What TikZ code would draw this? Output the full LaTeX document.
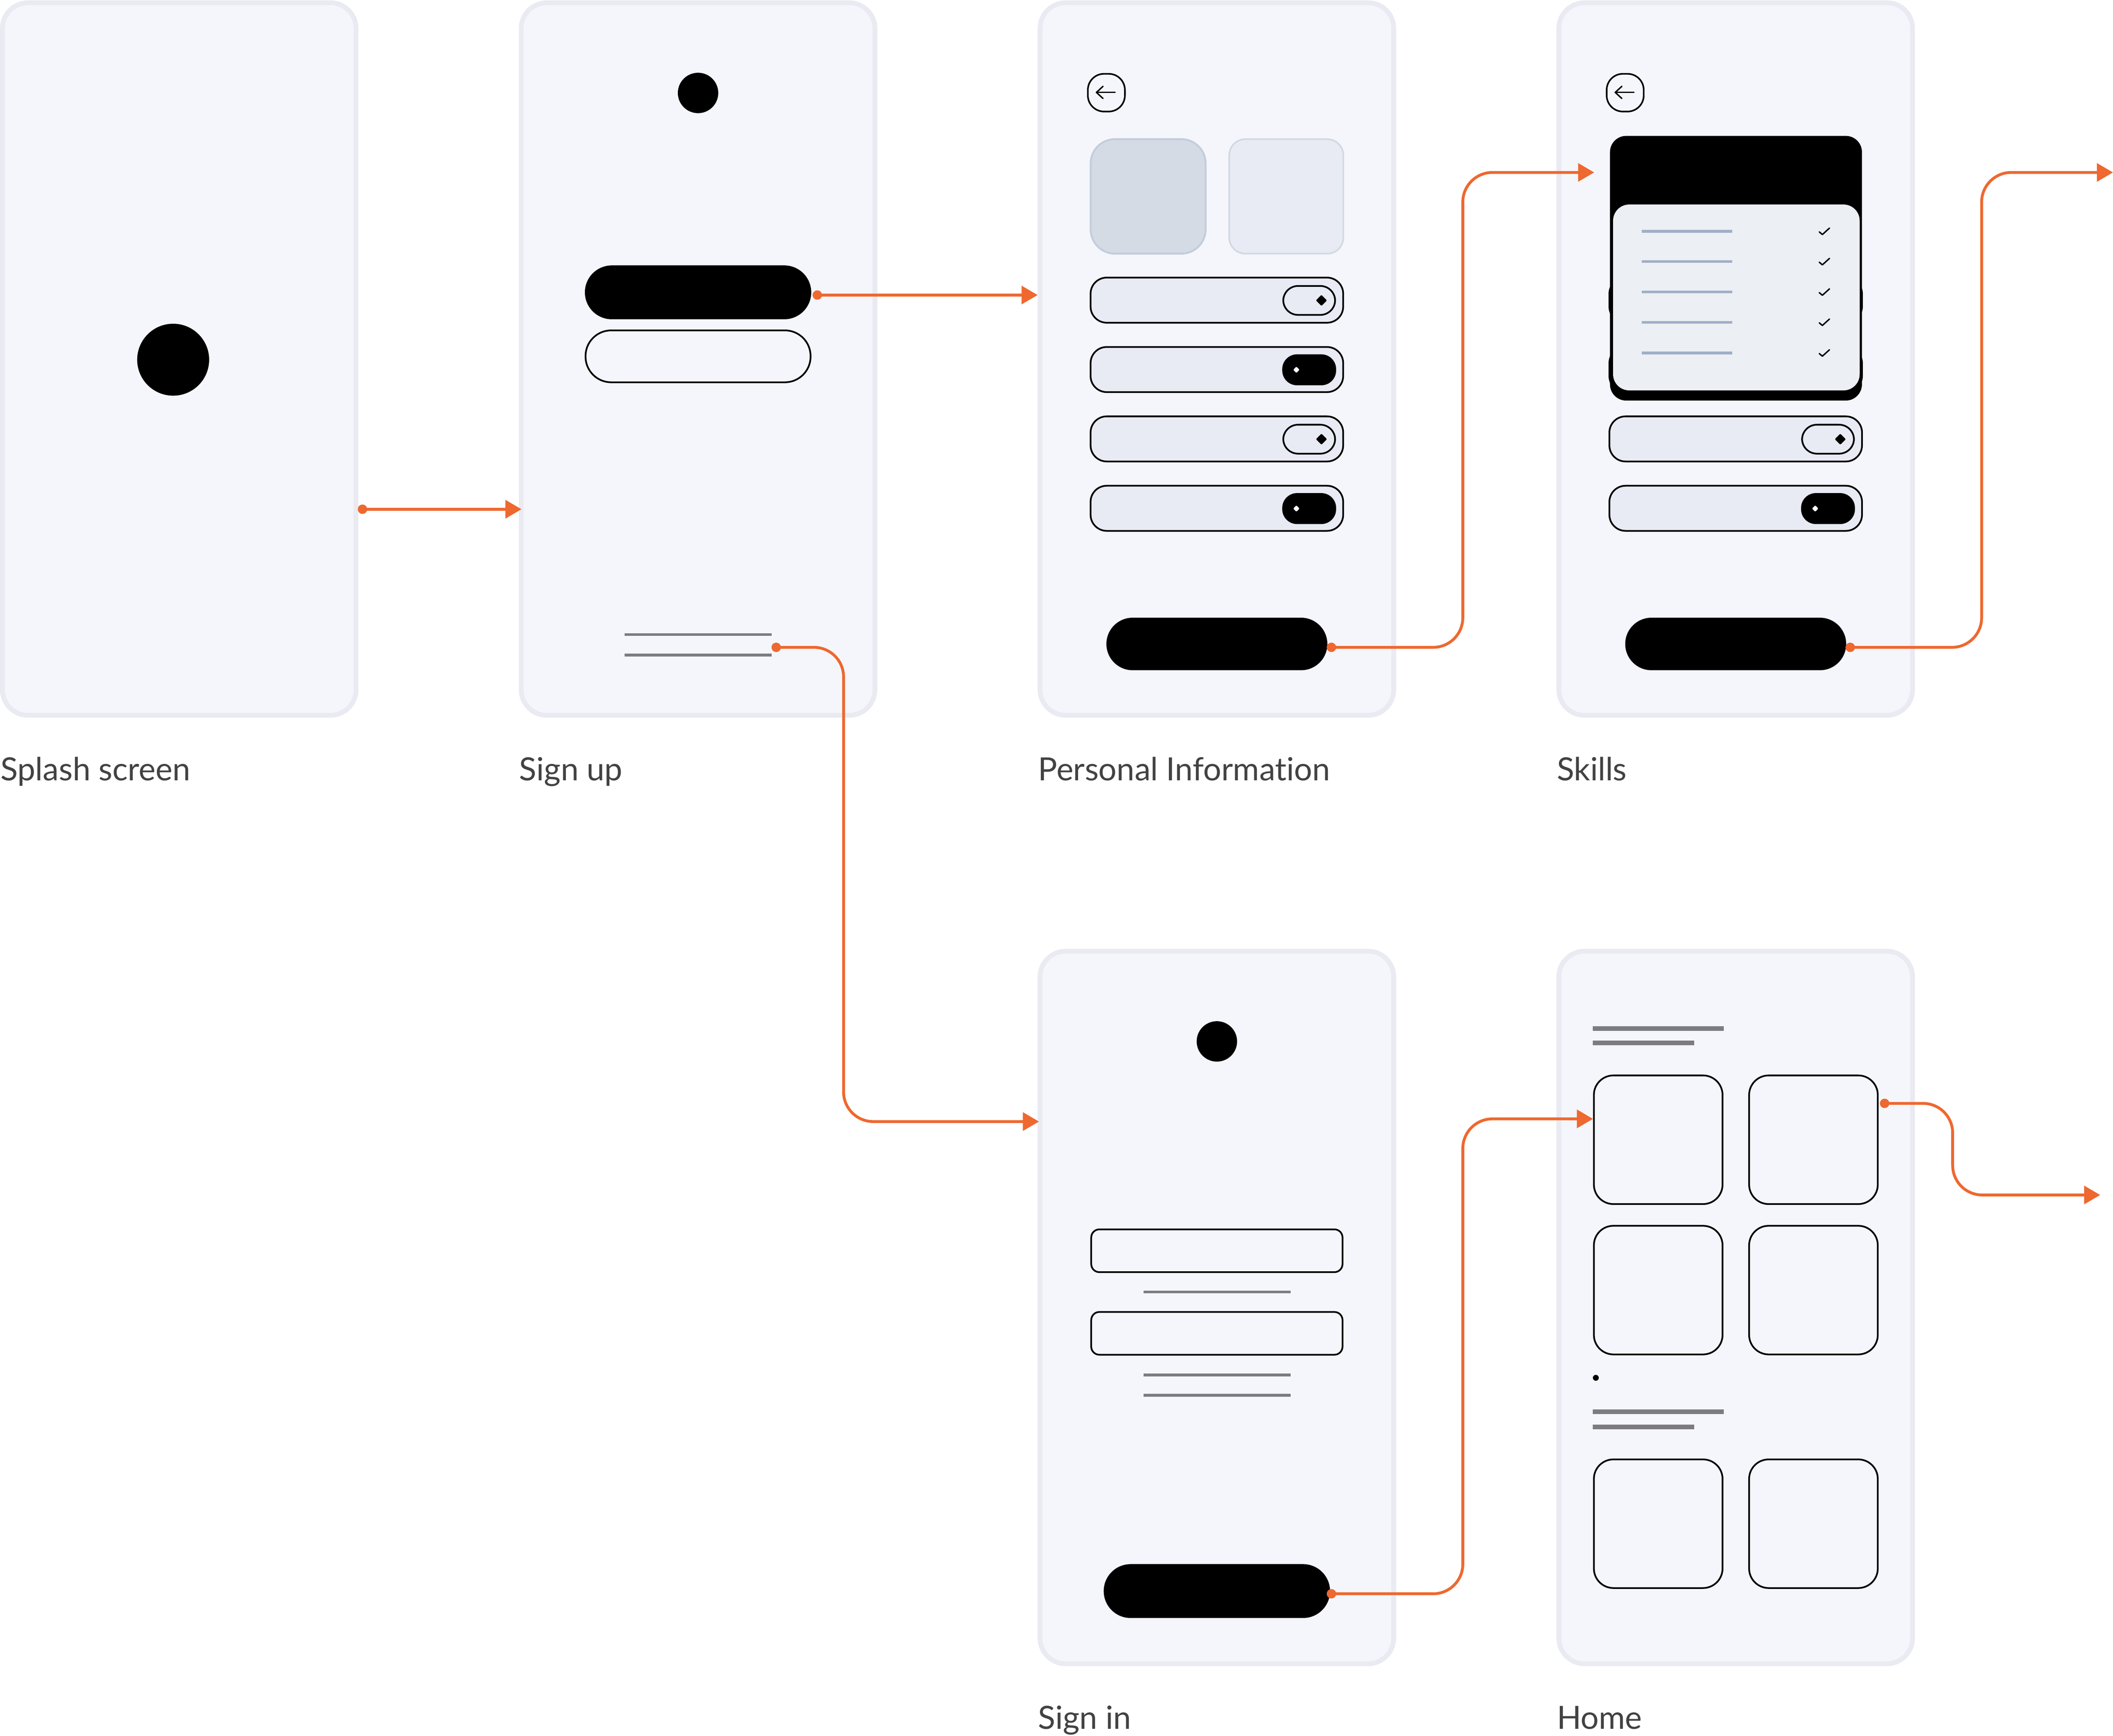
\documentclass[tikz,border=0pt]{standalone}
\usepackage{fontspec}
\setmainfont[Ligatures=NoCommon]{Lato}
\usepackage[usenames,dvipsnames]{xcolor}
\usetikzlibrary{arrows.meta}
\usetikzlibrary{shapes.geometric}
\definecolor{flowc}{HTML}{EE682F}
\definecolor{screenc}{HTML}{F5F6FB}
\definecolor{edgec}{HTML}{E9EAF2}
\definecolor{fieldc}{HTML}{E8EBF3}
\definecolor{rulec}{HTML}{7C7C80}
\definecolor{skillc}{HTML}{A0AEC6}
\definecolor{panelc}{HTML}{ECEFF3}
\definecolor{photoc}{HTML}{D5DBE5}
\definecolor{photoedgec}{HTML}{C3CDDC}
\definecolor{photobedgec}{HTML}{D2D9E3}
\tikzset{
  screen/.style={draw=edgec,fill=screenc,line width=2pt,rounded corners=.38cm,minimum width=5.25cm,minimum height=10.58cm,inner sep=0,outer sep=0},
  caption/.style={anchor=base west,inner sep=0,text=black!74,font=\fontsize{13.5}{16}\selectfont},
  blackpill/.style={fill=black,rounded corners=.39cm,minimum height=.78cm,inner sep=0,outer sep=0},
  field/.style={draw=black,fill=fieldc,line width=.72pt,rounded corners=.24cm,minimum width=3.75cm,minimum height=.67cm,inner sep=0,outer sep=0},
  toggleoff/.style={draw=black,fill=fieldc,line width=.72pt,rounded corners=.22cm,minimum width=.77cm,minimum height=.43cm,inner sep=0},
  toggleon/.style={fill=black,rounded corners=.22cm,minimum width=.8cm,minimum height=.46cm,inner sep=0},
  knob/.style={diamond,fill=#1,rounded corners=.3pt,inner sep=0},
  back/.style={draw=black,line width=.68pt,rounded corners=.24cm,minimum width=.55cm,minimum height=.56cm,inner sep=0},
  tile/.style={draw=black,line width=.72pt,rounded corners=.29cm,minimum width=1.91cm,minimum height=1.91cm,inner sep=0},
  inputbox/.style={draw=black,line width=.72pt,rounded corners=.12cm,minimum width=3.73cm,minimum height=.635cm,inner sep=0},
  thin rule/.style={draw=rulec,line width=1.2pt,line cap=butt},
  thick rule/.style={draw=rulec,line width=2pt,line cap=butt},
  skill rule/.style={draw=skillc,line width=1.1pt,line cap=butt},
  flowdot/.style={circle,fill=flowc,minimum size=.14cm,inner sep=0},
  flow/.style={draw=flowc,line width=1.2pt,line cap=butt,line join=miter,rounded corners=.44cm,-{Triangle[length=6.8pt,width=7.6pt]}},
}
\begin{document}
\begin{tikzpicture}[line cap=round,line join=round,x=0.02cm,y=-0.02cm]
\useasboundingbox (0,0) rectangle (1568,1288.5);
% screens
\node [screen] (splash) at (133,266.5) {};
\node [screen] (signup) at (518,266.5) {};
\node [screen] (personal) at (903,266.5) {};
\node [screen] (skills) at (1288,266.5) {};
\node [screen] (signin) at (903,970.5) {};
\node [screen] (home) at (1288,970.5) {};
\node [caption] (splashlabel) at (0,579.5) {Splash screen};
\node [caption] (signuplabel) at (385,579.5) {Sign up};
\node [caption] (personallabel) at (770,579.5) {Personal Information};
\node [caption] (skillslabel) at (1155,579.5) {Skills};
\node [caption] (signinlabel) at (770,1283.5) {Sign in};
\node [caption] (homelabel) at (1155,1283.5) {Home};
% splash
\fill (128.5,267) circle (26.7);
% sign up
\fill (518,69) circle (15);
\node [blackpill,minimum width=3.36cm,minimum height=.8cm,rounded corners=.4cm] (signupbtn) at (518,217) {};
\node [draw=black,fill=screenc,line width=.72pt,rounded corners=.38cm,minimum width=3.34cm,minimum height=.77cm,inner sep=0] (signinbtn) at (518,264.5) {};
\draw [thin rule] (463.6,471) -- (572.6,471);
\draw [thin rule] (463.6,486.3) -- (572.6,486.3);
% personal information
\node [back] (backa) at (821,68.8) {};
\draw [line width=.6pt] (827.5,68.6) -- (813.6,68.6);
\draw [line width=.6pt] (818.5,64.1) -- (813.6,68.6) -- (818.5,73.1);
\node [draw=photoedgec,fill=photoc,line width=.8pt,rounded corners=.36cm,minimum width=1.706cm,minimum height=1.7cm,inner sep=0] (photoa) at (852,145.8) {};
\node [draw=photobedgec,fill=fieldc,line width=.7pt,rounded corners=.24cm,minimum width=1.694cm,minimum height=1.7cm,inner sep=0] (photob) at (954.5,145.8) {};
\node [field] (pa) at (903,222.8) {};
\node [toggleoff] (pat) at (971.5,223) {};
\node [knob=black,minimum size=.17cm] (pak) at (980.6,223) {};
\node [field] (pb) at (903,274.3) {};
\node [toggleon] (pbt) at (971.5,274.5) {};
\node [knob=white,minimum size=.1cm] (pbk) at (962,274.5) {};
\node [field] (pc) at (903,325.8) {};
\node [toggleoff] (pct) at (971.5,326) {};
\node [knob=black,minimum size=.17cm] (pck) at (980.6,326) {};
\node [field] (pd) at (903,377.3) {};
\node [toggleon] (pdt) at (971.5,377.5) {};
\node [knob=white,minimum size=.1cm] (pdk) at (962,377.5) {};
\node [blackpill,minimum width=3.28cm] (pnext) at (903,478) {};
% skills
\node [back] (backb) at (1206,68.8) {};
\draw [line width=.6pt] (1212.5,68.6) -- (1198.6,68.6);
\draw [line width=.6pt] (1203.5,64.1) -- (1198.6,68.6) -- (1203.5,73.1);
\node [field] (sa) at (1288,222.8) {};
\node [field] (sb) at (1288,274.3) {};
\node [fill=black,rounded corners=.24cm,minimum width=3.74cm,minimum height=3.93cm,inner sep=0] (sheet) at (1288.2,199.1) {};
\node [fill=panelc,rounded corners=.24cm,minimum width=3.66cm,minimum height=2.76cm,inner sep=0] (panel) at (1288.5,220.8) {};
\draw [skill rule] (1218.3,171.7) -- (1285.4,171.7);
\draw [skill rule] (1218.3,194.2) -- (1285.4,194.2);
\draw [skill rule] (1218.3,216.8) -- (1285.4,216.8);
\draw [skill rule] (1218.3,239.2) -- (1285.4,239.2);
\draw [skill rule] (1218.3,262) -- (1285.4,262);
\draw [line width=.6pt] (1350,172.1) -- (1352.3,174.1) -- (1357.6,169.3);
\draw [line width=.6pt] (1350,194.6) -- (1352.3,196.6) -- (1357.6,191.8);
\draw [line width=.6pt] (1350,217.2) -- (1352.3,219.2) -- (1357.6,214.4);
\draw [line width=.6pt] (1350,239.6) -- (1352.3,241.6) -- (1357.6,236.8);
\draw [line width=.6pt] (1350,262.4) -- (1352.3,264.4) -- (1357.6,259.6);
\node [field] (sc) at (1288,325.8) {};
\node [toggleoff] (sct) at (1356.5,326) {};
\node [knob=black,minimum size=.17cm] (sck) at (1365.6,326) {};
\node [field] (sd) at (1288,377.3) {};
\node [toggleon] (sdt) at (1356.5,377.5) {};
\node [knob=white,minimum size=.1cm] (sdk) at (1347,377.5) {};
\node [blackpill,minimum width=3.28cm] (snext) at (1288,478) {};
% sign in
\fill (903,773) circle (15);
\node [inputbox] (mail) at (903,928.4) {};
\node [inputbox] (pass) at (903,989.7) {};
\draw [thin rule] (848.6,959) -- (957.6,959);
\draw [thin rule] (848.6,1020.6) -- (957.6,1020.6);
\draw [thin rule] (848.6,1035.6) -- (957.6,1035.6);
\node [blackpill,minimum width=3.36cm,minimum height=.8cm,rounded corners=.4cm] (login) at (903,1181) {};
% home
\draw [thick rule] (1181.8,763.4) -- (1279,763.4);
\draw [thick rule] (1181.8,774.2) -- (1257.3,774.2);
\node [tile] (ta) at (1230.5,846) {};
\node [tile] (tb) at (1345.7,846) {};
\node [tile] (tc) at (1230.5,957.6) {};
\node [tile] (td) at (1345.7,957.6) {};
\fill (1184.2,1022.7) circle (2.2);
\draw [thick rule] (1181.8,1048) -- (1279,1048);
\draw [thick rule] (1181.8,1059.2) -- (1257.3,1059.2);
\node [tile] (te) at (1230.5,1131) {};
\node [tile] (tf) at (1345.7,1131) {};
% connectors
\node [flowdot] (da) at (269,378) {};
\coordinate (ea) at (387,378);
\draw [flow] (da.center) -- (ea);
\node [flowdot] (db) at (606.5,219) {};
\coordinate (eb) at (770,219);
\draw [flow] (db.center) -- (eb);
\node [flowdot] (dc) at (576,480.5) {};
\coordinate (vc) at (626,832.5);
\coordinate (ec) at (771,832.5);
\draw [flow] (dc.center) -| (vc) -- (ec);
\node [flowdot] (dd) at (988,480.5) {};
\coordinate (vd) at (1085.5,128);
\coordinate (ed) at (1183,128);
\draw [flow] (dd.center) -| (vd) -- (ed);
\node [flowdot] (de) at (1373,480.5) {};
\coordinate (ve) at (1470.5,128);
\coordinate (ee) at (1568,128);
\draw [flow] (de.center) -| (ve) -- (ee);
\node [flowdot] (df) at (988,1183) {};
\coordinate (vf) at (1085.5,830.5);
\draw [flow] (df.center) -| (vf) -- (ta.west |- vf);
\node [flowdot] (dg) at (1398.5,819) {};
\coordinate (vg) at (1449,887);
\coordinate (eg) at (1558.5,887);
\draw [flow] (dg.center) -| (vg) -- (eg);
\end{tikzpicture}
\end{document}
